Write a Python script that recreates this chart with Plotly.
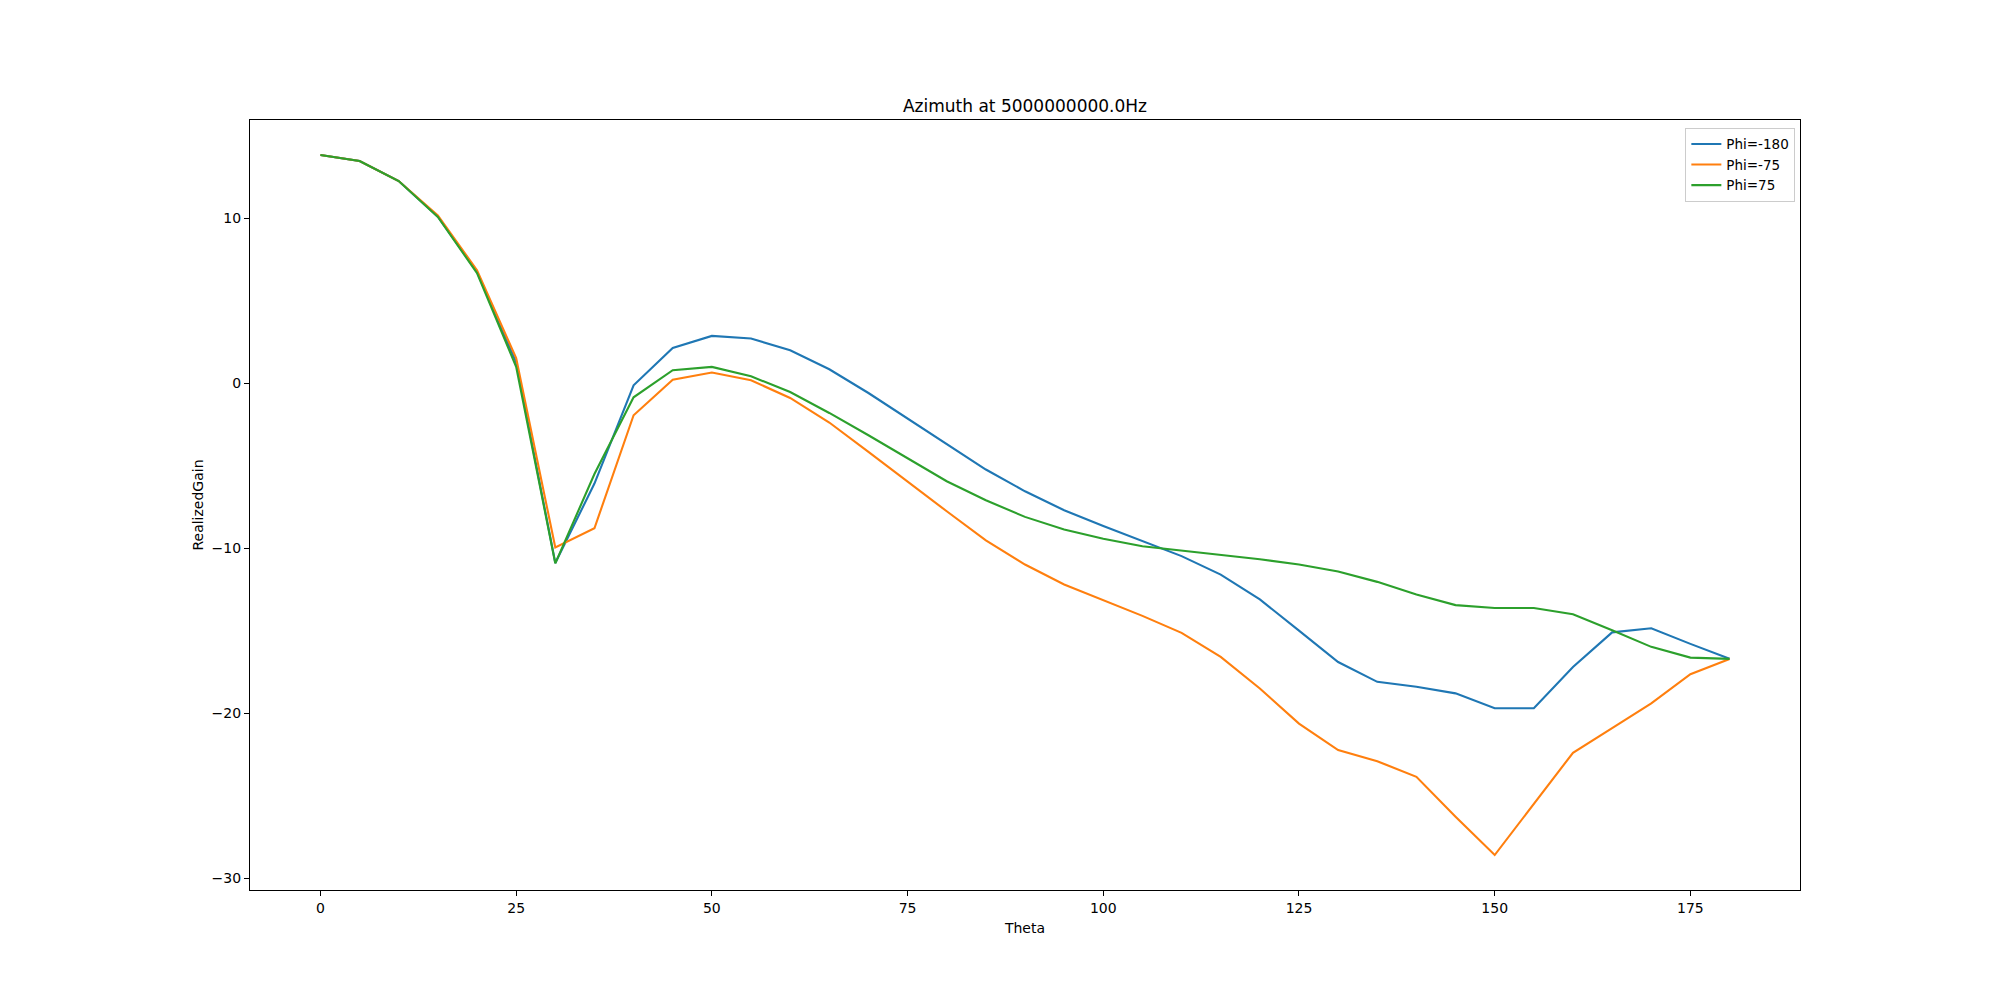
import plotly.graph_objects as go

theta = [0, 5, 10, 15, 20, 25, 30, 35, 40, 45, 50, 55, 60, 65, 70, 75, 80, 85, 90,
         95, 100, 105, 110, 115, 120, 125, 130, 135, 140, 145, 150, 155, 160, 165, 170, 175, 180]

gain_phi_m180 = [13.84, 13.47, 12.26, 10.10, 6.75, 1.27, -10.90, -6.08, -0.12, 2.14, 2.87, 2.71,
                 2.00, 0.85, -0.59, -2.12, -3.66, -5.23, -6.55, -7.70, -8.65, -9.55, -10.48,
                 -11.60, -13.10, -15.00, -16.90, -18.10, -18.40, -18.80, -19.70, -19.70, -17.20,
                 -15.10, -14.85, -15.80, -16.70]

gain_phi_m75 = [13.84, 13.47, 12.26, 10.18, 6.85, 1.52, -9.96, -8.79, -1.94, 0.22, 0.65, 0.18,
                -0.89, -2.38, -4.16, -5.98, -7.76, -9.52, -10.99, -12.20, -13.15, -14.10, -15.13,
                -16.59, -18.50, -20.63, -22.24, -22.91, -23.86, -26.28, -28.60, -25.47, -22.40,
                -20.90, -19.41, -17.64, -16.71]

gain_phi_75 = [13.84, 13.47, 12.26, 10.08, 6.68, 1.00, -10.92, -5.50, -0.85, 0.79, 0.99, 0.42,
               -0.53, -1.80, -3.15, -4.57, -5.94, -7.09, -8.10, -8.87, -9.43, -9.88, -10.15,
               -10.38, -10.67, -10.99, -11.41, -12.04, -12.81, -13.45, -13.62, -13.62, -14.00,
               -14.97, -15.98, -16.63, -16.71]

series = [("Phi=-180", gain_phi_m180, "#1f77b4"),
          ("Phi=-75", gain_phi_m75, "#ff7f0e"),
          ("Phi=75", gain_phi_75, "#2ca02c")]

font_family = "DejaVu Sans, sans-serif"

fig = go.Figure()
for name, vals, color in series:
    fig.add_trace(go.Scatter(x=theta, y=vals, mode="lines", name=name,
                             line=dict(color=color, width=2.1)))

axis_common = dict(showline=True, linecolor="black", linewidth=1.1, mirror=True,
                   ticks="outside", ticklen=5, tickwidth=1.1, tickcolor="black",
                   showgrid=False, zeroline=False,
                   tickfont=dict(family=font_family, size=14, color="black"))

fig.update_layout(
    width=2000, height=1000,
    paper_bgcolor="white", plot_bgcolor="white",
    margin=dict(l=250, r=200, t=120, b=110, autoexpand=False),
    title=dict(text="Azimuth at 5000000000.0Hz", x=0.5, xanchor="center",
               xref="paper", yref="paper", y=1, yanchor="bottom",
               pad=dict(b=8),
               font=dict(family=font_family, size=17, color="black")),
    xaxis=dict(range=[-9, 189], tickvals=[0, 25, 50, 75, 100, 125, 150, 175],
               title=dict(text="Theta", standoff=8,
                          font=dict(family=font_family, size=14, color="black")),
               **axis_common),
    yaxis=dict(range=[-30.72, 15.96], tickvals=[-30, -20, -10, 0, 10],
               title=dict(text="RealizedGain", standoff=4,
                          font=dict(family=font_family, size=14, color="black")),
               **axis_common),
    legend=dict(x=0.997, y=0.99, xanchor="right", yanchor="top",
                bgcolor="rgba(255,255,255,0.8)", bordercolor="#cccccc", borderwidth=1,
                font=dict(family=font_family, size=13.5, color="black"),
                itemwidth=30, tracegroupgap=0),
    showlegend=True,
)

fig.write_html("out.html")
